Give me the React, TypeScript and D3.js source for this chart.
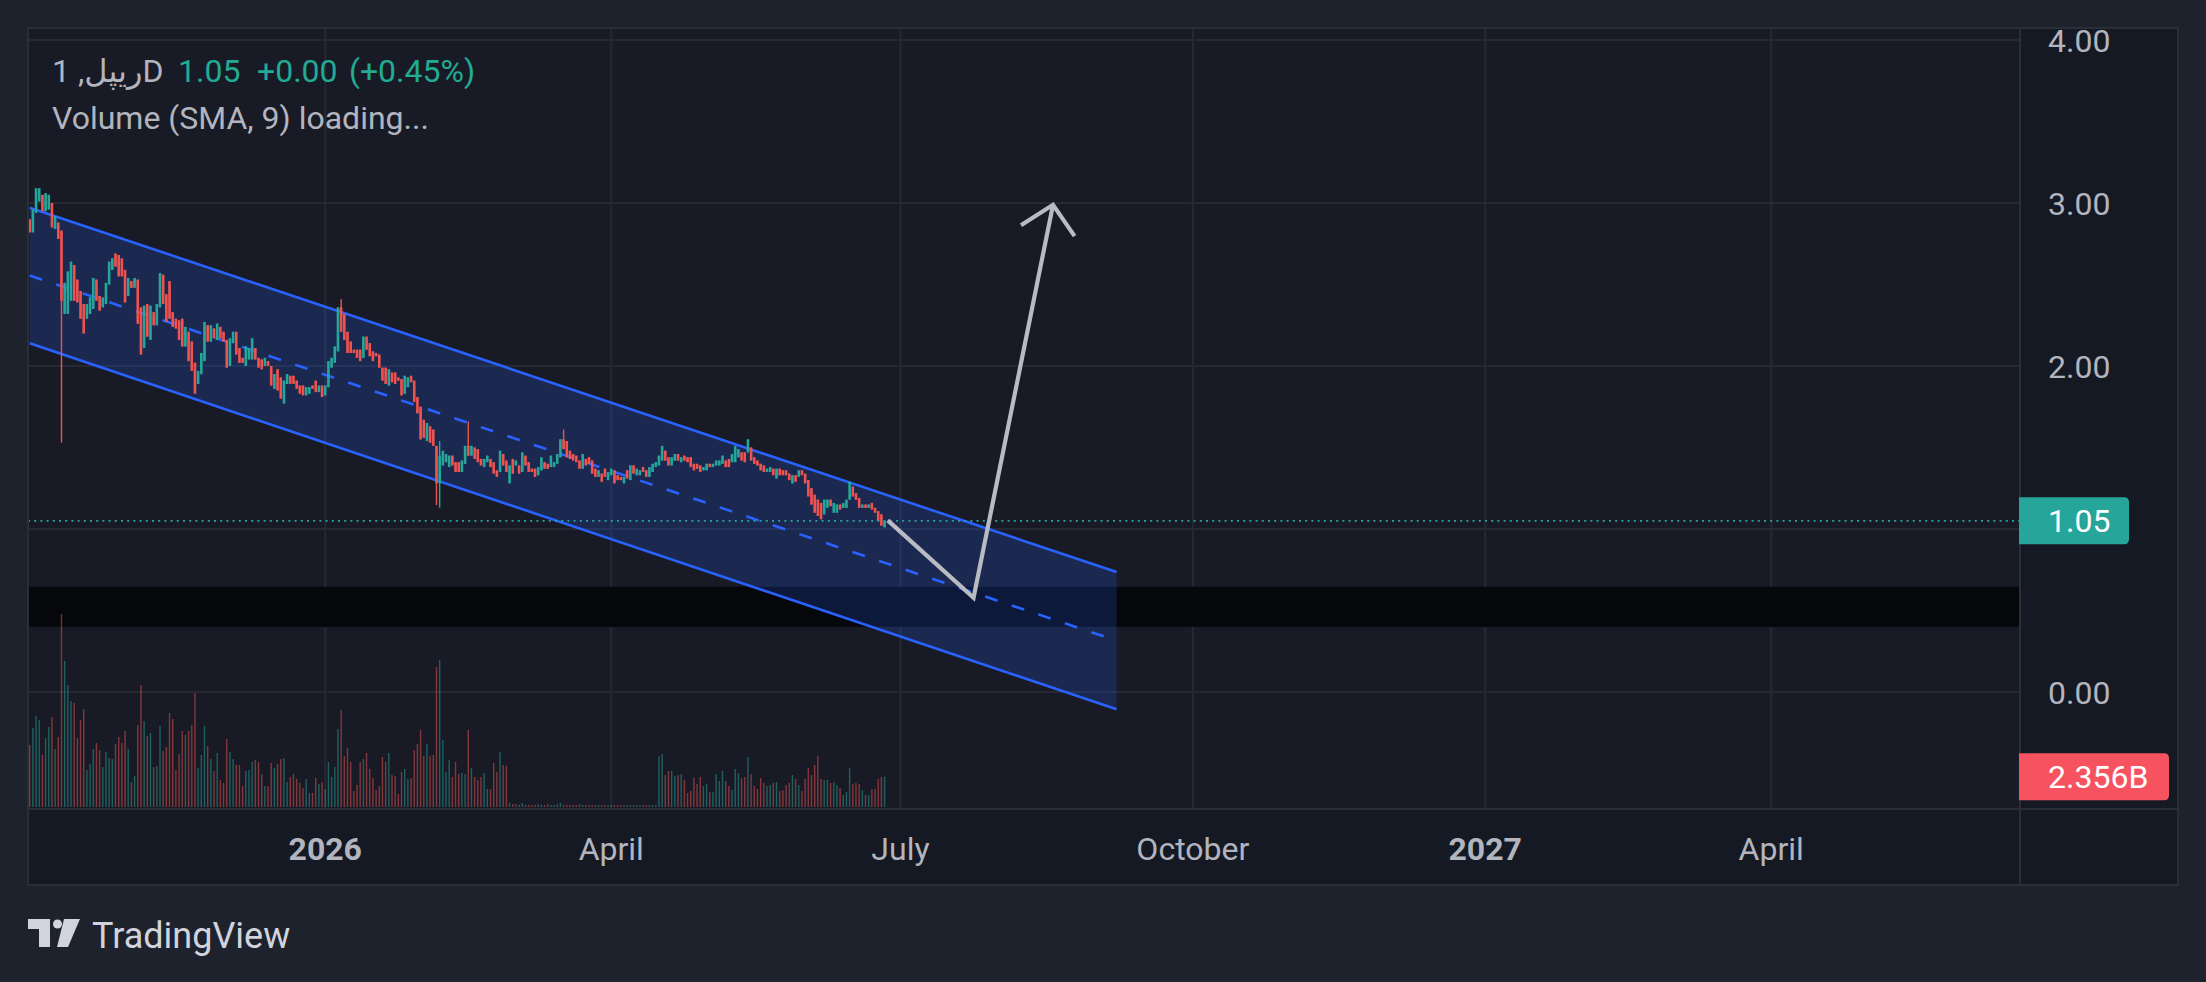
import * as d3 from "d3";

// daily candles from 2025-09-30, [open, close]
const firstDay = "2025-09-30";
const openClose: [number, number][] = [
  [2.90, 2.82], [2.82, 2.96], [2.94, 3.09], [3.01, 3.09], [3.05, 2.95], [2.95, 3.06], [2.96, 3.05], [3.00, 2.85], [2.84, 2.92], [2.88, 2.78],
  [2.83, 2.40], [2.32, 2.51], [2.32, 2.58], [2.40, 2.64], [2.62, 2.40], [2.53, 2.39], [2.46, 2.29], [2.38, 2.20], [2.29, 2.38], [2.32, 2.42],
  [2.35, 2.54], [2.53, 2.40], [2.43, 2.34], [2.36, 2.42], [2.38, 2.51], [2.50, 2.64], [2.59, 2.66], [2.69, 2.61], [2.68, 2.55], [2.66, 2.55],
  [2.59, 2.39], [2.43, 2.54], [2.52, 2.48], [2.48, 2.54], [2.53, 2.26], [2.36, 2.07], [2.11, 2.37], [2.38, 2.18], [2.16, 2.37], [2.33, 2.25],
  [2.25, 2.38], [2.36, 2.57], [2.56, 2.38], [2.44, 2.27], [2.52, 2.29], [2.33, 2.24], [2.29, 2.23], [2.28, 2.16], [2.29, 2.12], [2.12, 2.24],
  [2.21, 2.03], [2.15, 1.97], [2.02, 1.83], [1.89, 1.97], [1.95, 2.08], [2.03, 2.27], [2.25, 2.15], [2.15, 2.25], [2.23, 2.17], [2.16, 2.26],
  [2.24, 2.17], [2.21, 2.15], [2.16, 1.99], [2.00, 2.17], [2.14, 2.21], [2.21, 2.07], [2.11, 2.02], [2.05, 2.02], [2.00, 2.12], [2.04, 2.11],
  [2.04, 2.17], [2.11, 2.04], [2.05, 1.99], [2.04, 1.98], [2.00, 2.05], [2.03, 2.00], [2.00, 1.88], [1.86, 1.95], [1.98, 1.85], [1.93, 1.80],
  [1.77, 1.91], [1.89, 1.95], [1.94, 1.89], [1.94, 1.89], [1.91, 1.86], [1.88, 1.83], [1.88, 1.82], [1.82, 1.87], [1.83, 1.87], [1.88, 1.86],
  [1.91, 1.84], [1.84, 1.88], [1.88, 1.81], [1.82, 1.88],
  // 2026-01-02
  [1.87, 2.03], [1.99, 2.05], [2.02, 2.12], [2.09, 2.36], [2.36, 2.21], [2.32, 2.16], [2.21, 2.08], [2.15, 2.08], [2.10, 2.08], [2.10, 2.05],
  [2.10, 2.03], [2.05, 2.18], [2.18, 2.10], [2.14, 2.06], [2.09, 2.03], [2.08, 2.06], [2.07, 1.99], [1.99, 1.91], [1.99, 1.89], [1.88, 1.98],
  [1.96, 1.90], [1.96, 1.89], [1.93, 1.91], [1.92, 1.82], [1.83, 1.94], [1.87, 1.93], [1.94, 1.90], [1.91, 1.78], [1.81, 1.71], [1.75, 1.55],
  [1.67, 1.56], [1.54, 1.65], [1.63, 1.53], [1.61, 1.51], [1.51, 1.28], [1.28, 1.45], [1.39, 1.48], [1.41, 1.46], [1.38, 1.45], [1.45, 1.39],
  [1.41, 1.35], [1.41, 1.35], [1.35, 1.42], [1.40, 1.51], [1.51, 1.45], [1.45, 1.51], [1.50, 1.43], [1.49, 1.41], [1.43, 1.39], [1.38, 1.43],
  [1.41, 1.45], [1.43, 1.38], [1.41, 1.34], [1.36, 1.32], [1.35, 1.48], [1.46, 1.39], [1.42, 1.35], [1.28, 1.39], [1.43, 1.34], [1.39, 1.42],
  [1.39, 1.34], [1.35, 1.47], [1.45, 1.39], [1.41, 1.35], [1.37, 1.35], [1.37, 1.32], [1.33, 1.38], [1.36, 1.44], [1.41, 1.37], [1.40, 1.37],
  [1.38, 1.45], [1.38, 1.41], [1.40, 1.46], [1.44, 1.55], [1.55, 1.49], [1.54, 1.44], [1.48, 1.43], [1.46, 1.42], [1.45, 1.41], [1.42, 1.37],
  [1.37, 1.46], [1.43, 1.39], [1.44, 1.40], [1.42, 1.34], [1.37, 1.32], [1.32, 1.36], [1.34, 1.29], [1.37, 1.32], [1.30, 1.35], [1.33, 1.37],
  [1.36, 1.28], [1.33, 1.30], [1.32, 1.30],
  // 2026-04-05
  [1.28, 1.32], [1.36, 1.31], [1.30, 1.39], [1.39, 1.34], [1.33, 1.37], [1.33, 1.36], [1.38, 1.35], [1.36, 1.32], [1.32, 1.38], [1.35, 1.40],
  [1.38, 1.41], [1.39, 1.45], [1.42, 1.51], [1.48, 1.42], [1.44, 1.39], [1.39, 1.44], [1.42, 1.46], [1.46, 1.42], [1.41, 1.44], [1.45, 1.42],
  [1.44, 1.41], [1.44, 1.38], [1.40, 1.36], [1.40, 1.37], [1.39, 1.35], [1.36, 1.38], [1.36, 1.40], [1.40, 1.38], [1.38, 1.40], [1.39, 1.42],
  [1.39, 1.42], [1.40, 1.45], [1.42, 1.38], [1.43, 1.38], [1.41, 1.46], [1.41, 1.51], [1.44, 1.49], [1.47, 1.42], [1.47, 1.41], [1.47, 1.55],
  [1.50, 1.42], [1.44, 1.40], [1.42, 1.39], [1.40, 1.36], [1.39, 1.35], [1.35, 1.37], [1.35, 1.38], [1.37, 1.33], [1.31, 1.37], [1.37, 1.33],
  [1.36, 1.33], [1.36, 1.33], [1.34, 1.30], [1.28, 1.33], [1.33, 1.29], [1.32, 1.36], [1.36, 1.33], [1.34, 1.28], [1.30, 1.20], [1.25, 1.15],
  [1.21, 1.10], [1.18, 1.08], [1.16, 1.06], [1.09, 1.18], [1.13, 1.18], [1.18, 1.14], [1.10, 1.16], [1.10, 1.15], [1.15, 1.12], [1.13, 1.16],
  [1.13, 1.18], [1.18, 1.29], [1.26, 1.20], [1.22, 1.18], [1.19, 1.13], [1.13, 1.15], [1.15, 1.13], [1.13, 1.15], [1.16, 1.12], [1.13, 1.10],
  [1.11, 1.05], [1.09, 1.02], [1.01, 1.05],
];

// candles whose wicks reach clearly past the body
const longWicks = [
  { date: "2025-10-10", high: 2.83, low: 1.53 },
  { date: "2026-01-06", high: 2.41, low: 2.21 },
  { date: "2026-02-05", high: 1.51, low: 1.147 },
  { date: "2026-02-06", high: 1.54, low: 1.131 },
  { date: "2026-02-15", high: 1.66, low: 1.45 },
  { date: "2026-03-17", high: 1.61, low: 1.49 },
];

// volume in billions, same days as the candles
const volumes: number[] = [
  4.82, 6.14, 7.07, 6.76, 4.04, 5.36, 6.22, 7.0, 4.51, 5.44,
  15.0, 11.35, 9.48, 8.24, 8.08, 5.36, 6.76, 7.62, 2.88, 3.34,
  4.51, 4.97, 4.43, 3.11, 4.27, 3.81, 3.73, 4.9, 5.44, 4.97,
  5.91, 4.51, 1.94, 2.41, 6.37, 9.48, 6.68, 5.52, 5.75, 3.11,
  3.19, 6.3, 4.35, 4.66, 7.31, 6.84, 2.88, 4.12, 5.91, 5.6,
  5.91, 6.37, 8.86, 3.03, 4.04, 6.3, 4.74, 3.73, 2.8, 4.2,
  2.1, 1.87, 5.28, 4.27, 3.73, 3.26, 3.26, 1.63, 2.8, 2.88,
  3.5, 3.65, 3.5, 2.56, 1.63, 1.63, 3.42, 3.03, 3.34, 3.73,
  3.81, 1.94, 2.33, 2.56, 2.18, 1.87, 1.48, 2.18, 1.09, 1.09,
  2.25, 1.79, 1.94, 1.40,
  3.5, 2.33, 3.11, 6.06, 7.54, 3.96, 4.59, 3.5, 1.24, 1.71,
  3.5, 3.73, 4.2, 2.95, 2.25, 1.32, 1.63, 3.89, 3.5, 4.2,
  2.49, 2.41, 1.01, 2.72, 2.95, 2.18, 2.25, 4.43, 4.9, 5.98,
  3.96, 4.9, 3.96, 4.04, 10.88, 11.42, 5.21, 2.72, 3.65, 2.33,
  3.5, 2.56, 2.64, 2.56, 5.98, 3.03, 2.33, 2.1, 2.33, 2.64,
  1.4, 1.4, 3.42, 2.72, 4.27, 3.26, 3.19, 0.31, 0.23, 0.23,
  0.16, 0.31, 0.16, 0.16, 0.16, 0.16, 0.23, 0.16, 0.16, 0.23,
  0.16, 0.16, 0.23, 0.31, 0.16, 0.16, 0.16, 0.16, 0.16, 0.23,
  0.16, 0.16, 0.16, 0.16, 0.16, 0.16, 0.16, 0.16, 0.16, 0.16,
  0.16, 0.16, 0.16,
  0.16, 0.16, 0.16, 0.16, 0.16, 0.16, 0.16, 0.16, 0.16, 0.16, 0.16,
  3.96, 4.12, 2.49, 2.8, 2.8, 2.41, 2.49, 2.56, 2.1, 1.09,
  1.24, 2.25, 1.79, 2.33, 1.63, 1.79, 1.17, 1.17, 2.56, 2.02,
  2.8, 2.02, 1.63, 1.32, 2.95, 2.64, 2.25, 2.33, 3.89, 2.56,
  1.63, 1.4, 2.25, 1.87, 1.63, 1.71, 1.87, 1.94, 1.24, 1.32,
  1.71, 1.87, 2.49, 2.18, 1.71, 1.24, 2.18, 3.03, 2.49, 3.26,
  3.96, 2.18, 2.1, 2.1, 1.87, 1.94, 1.71, 1.48, 0.93, 1.17,
  3.03, 1.79, 1.87, 1.79, 1.32, 0.93, 0.93, 1.4, 1.4, 2.18,
  2.33, 2.356,
];

const lastPrice = 1.05;
const lastVolume = "2.356B";

// parallel channel anchors
const channelDates = ["2025-09-30", "2026-09-07"];
const channelUpper = [2.971, 0.736];
const channelLower = [2.139, -0.106];

// dark rectangle drawn across the chart
const bandPrices = [0.40, 0.645];

// hand drawn path with arrow head
const arrowDates = ["2026-06-27", "2026-07-24", "2026-08-18"];
const arrowPrices = [1.053, 0.578, 2.989];

const priceTicks = [0, 1, 2, 3, 4];
const timeTickDates = ["2026-01-01", "2026-04-01", "2026-07-01", "2026-10-01", "2027-01-01", "2027-04-01"];
const timeTickLabels = ["2026", "April", "July", "October", "2027", "April"];
const boldTicks = ["2026", "2027"];

const parse = d3.utcParse("%Y-%m-%d");
const fmt = d3.utcFormat("%Y-%m-%d");

const FONT = "Roboto, 'DejaVu Sans', sans-serif";
const UP = "#26a69a";
const DOWN = "#ef5350";

export default function App() {
  const W = 2206;
  const H = 982;
  const left = 28, right = 2020, top = 29, bottom = 809, axisBottom = 885, frameRight = 2178;

  const x = d3.scaleUtc()
    .domain([parse("2025-09-30")!, parse("2027-06-01")!])
    .range([29.7, 29.7 + 609 * 3.178]);
  const y = d3.scaleLinear().domain([0, 4]).range([692, 40]);
  const yVol = d3.scaleLinear().domain([0, d3.max(volumes)!]).range([807, 614]);

  const wickMap = new Map(longWicks.map(w => [w.date, w]));
  const candles = openClose.map(([o, c], i) => {
    const date = d3.utcDay.offset(parse(firstDay)!, i);
    const w = wickMap.get(fmt(date));
    return {
      date, o, c,
      h: w ? w.high : Math.max(o, c),
      l: w ? w.low : Math.min(o, c),
      v: volumes[i],
    };
  });

  const cd = channelDates.map(d => x(parse(d)!));
  const upper: [number, number][] = [[cd[0], y(channelUpper[0])], [cd[1], y(channelUpper[1])]];
  const lower: [number, number][] = [[cd[0], y(channelLower[0])], [cd[1], y(channelLower[1])]];
  const middle: [number, number][] = [
    [cd[0], y((channelUpper[0] + channelLower[0]) / 2)],
    [cd[1], y((channelUpper[1] + channelLower[1]) / 2)],
  ];
  const line = d3.line();

  const arrowPts: [number, number][] = arrowDates.map((d, i) => [x(parse(d)!), y(arrowPrices[i])]);
  const tip = arrowPts[arrowPts.length - 1];
  const prev = arrowPts[arrowPts.length - 2];
  const len = Math.hypot(prev[0] - tip[0], prev[1] - tip[1]);
  const ux = (prev[0] - tip[0]) / len, uy = (prev[1] - tip[1]) / len;
  const wing = (a: number): [number, number] => {
    const r = (a * Math.PI) / 180;
    return [tip[0] + 38 * (ux * Math.cos(r) - uy * Math.sin(r)), tip[1] + 38 * (ux * Math.sin(r) + uy * Math.cos(r))];
  };
  const head = [wing(46), tip, wing(-46)] as [number, number][];

  const yLast = y(lastPrice);
  const yLastVol = yVol(volumes[volumes.length - 1]);
  const badge = (yc: number, w: number) =>
    `M${right - 1},${yc - 23.5} H${right - 1 + w - 5} Q${right - 1 + w},${yc - 23.5} ${right - 1 + w},${yc - 18.5} V${yc + 18.5} Q${right - 1 + w},${yc + 23.5} ${right - 1 + w - 5},${yc + 23.5} H${right - 1} Z`;

  // the last-price badge hides the axis labels it sits on
  const visibleTicks = priceTicks.filter(p => Math.abs(y(p) - yLast) > 40);

  return (
    <svg width={W} height={H} style={{ position: "absolute", left: 0, top: 0, display: "block" }} fontFamily={FONT}>
      <defs>
        <clipPath id="pane">
          <rect x={left} y={top} width={right - left} height={bottom - top} />
        </clipPath>
      </defs>
      <rect width={W} height={H} fill="#1e222d" />
      <rect x={left} y={28} width={frameRight - left} height={axisBottom - 28} fill="#151924" />
      <rect x={left} y={top} width={right - left} height={bottom - top} fill="#181b26" />

      {/* grid */}
      <g stroke="#252934" strokeWidth={2}>
        {priceTicks.map(p => (
          <line key={p} x1={left} x2={right} y1={y(p)} y2={y(p)} />
        ))}
        {timeTickDates.map(d => (
          <line key={d} x1={x(parse(d)!)} x2={x(parse(d)!)} y1={top} y2={bottom} />
        ))}
      </g>

      <g clipPath="url(#pane)">
        <rect x={left} y={y(bandPrices[1])} width={right - left} height={y(bandPrices[0]) - y(bandPrices[1])} fill="#06070b" />

        {/* volume */}
        {candles.map((d, i) => (
          <rect key={i} x={x(d.date) - 0.7} width={1.4} y={yVol(d.v)} height={807 - yVol(d.v)}
            fill={d.c >= d.o ? "rgba(38,166,154,0.5)" : "rgba(239,83,80,0.5)"} />
        ))}

        {/* channel */}
        <path d={`M${upper[0]}L${upper[1]}L${lower[1]}L${lower[0]}Z`} fill="rgba(41,98,255,0.2)" />
        <path d={line(upper)!} stroke="#2962ff" strokeWidth={2.6} fill="none" />
        <path d={line(lower)!} stroke="#2962ff" strokeWidth={2.6} fill="none" />
        <path d={line(middle)!} stroke="#2962ff" strokeWidth={2.6} fill="none" strokeDasharray="13 15" />

        {/* candles */}
        {candles.map((d, i) => {
          const cx = x(d.date);
          const col = d.c >= d.o ? UP : DOWN;
          const yt = y(Math.max(d.o, d.c));
          const yb = y(Math.min(d.o, d.c));
          return (
            <g key={i} fill={col}>
              <rect x={cx - 0.7} width={1.4} y={y(d.h)} height={Math.max(1, y(d.l) - y(d.h))} />
              <rect x={cx - 1.3} width={2.6} y={yt} height={Math.max(1.4, yb - yt)} />
            </g>
          );
        })}

        <line x1={left} x2={right} y1={yLast} y2={yLast} stroke={UP} strokeWidth={1.8} strokeDasharray="2 4.2" />

        <path d={line(arrowPts)!} stroke="#b9bbc2" strokeWidth={4.2} fill="none" strokeLinejoin="miter" />
        <path d={line(head)!} stroke="#b9bbc2" strokeWidth={4.2} fill="none" strokeLinejoin="miter" />
      </g>

      {/* frame */}
      <g stroke="#2a2e39" strokeWidth={2} fill="none">
        <rect x={left} y={28} width={frameRight - left} height={axisBottom - 28} />
        <line x1={right} x2={right} y1={28} y2={axisBottom} />
        <line x1={left} x2={frameRight} y1={bottom} y2={bottom} />
      </g>

      {/* price axis */}
      <g fill="#b2b5be" fontSize={32}>
        {visibleTicks.map(p => (
          <text key={p} x={2048} y={y(p) + 11.5}>{p.toFixed(2)}</text>
        ))}
      </g>
      <path d={badge(yLast, 110)} fill={UP} />
      <text x={2048} y={yLast + 11.5} fill="#ffffff" fontSize={32}>{lastPrice.toFixed(2)}</text>
      <path d={badge(yLastVol, 150)} fill="#f7525f" />
      <text x={2048} y={yLastVol + 11.5} fill="#ffffff" fontSize={32}>{lastVolume}</text>

      {/* time axis */}
      <g fill="#b2b5be" fontSize={32} textAnchor="middle">
        {timeTickDates.map((d, i) => (
          <text key={d} x={x(parse(d)!)} y={860} fontWeight={boldTicks.includes(timeTickLabels[i]) ? 700 : 400}>
            {timeTickLabels[i]}
          </text>
        ))}
      </g>

      {/* legend */}
      <g fontSize={32}>
        <text x={52} y={81.5} fill="#b2b5be">ریپل, 1D</text>
        <text x={178} y={81.5} fill="#22ab94">1.05</text>
        <text x={257} y={81.5} fill="#22ab94">+0.00</text>
        <text x={349} y={81.5} fill="#22ab94">(+0.45%)</text>
        <text x={52} y={129} fill="#b2b5be">Volume (SMA, 9) loading...</text>
      </g>

      {/* TradingView mark */}
      <g fill="#d1d4dc">
        <path d="M28,919 H50 V947 H39 V929 H28 Z" />
        <circle cx={57.5} cy={924} r={4.5} />
        <path d="M64,919 H80 L68,947 H57 Z" />
        <text x={92} y={948} fontSize={36}>TradingView</text>
      </g>
    </svg>
  );
}
